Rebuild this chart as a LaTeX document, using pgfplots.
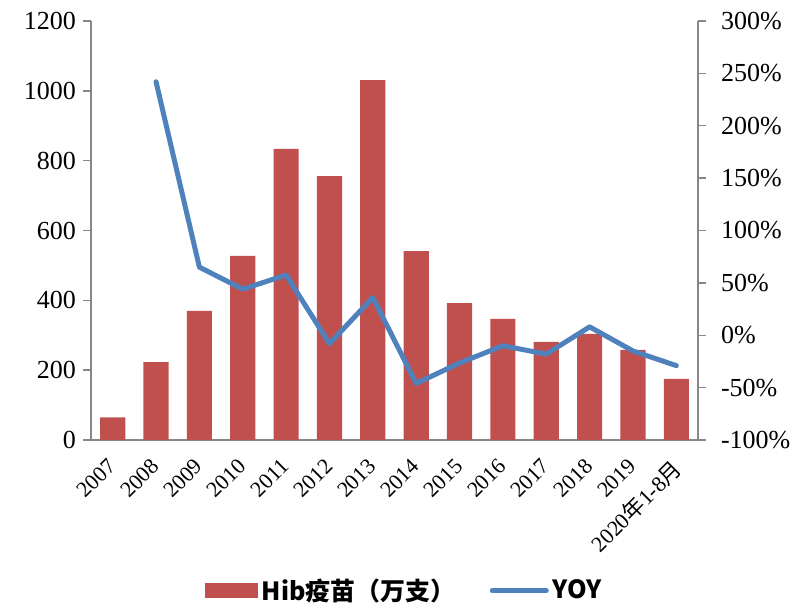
\documentclass[border=0pt]{standalone}
\usepackage{pgfplots}
\pgfplotsset{compat=1.18}
\usepackage{fontspec}
\setmainfont{Liberation Serif}
\newfontfamily\cjk{Noto Sans CJK SC}
\definecolor{barred}{HTML}{C0504D}
\definecolor{lineblue}{HTML}{4F81BD}
\definecolor{axgray}{HTML}{878787}
\begin{document}
\begin{tikzpicture}
\useasboundingbox (-45.5pt,-81.5pt) rectangle (350.5pt,220pt);
\begin{axis}[
  at={(0,0)}, anchor=south west, scale only axis,
  width=303.5pt, height=209.5pt,
  xmin=-0.5, xmax=13.5, ymin=0, ymax=1200,
  axis y line*=left, axis x line*=bottom,
  axis line style={axgray, line width=0.7pt, -},
  xtick={0,...,13},
  xticklabels={2007,2008,2009,2010,2011,2012,2013,2014,2015,2016,2017,2018,2019,2020{\cjk 年}1-8{\cjk 月}},
  major x tick style={draw=none},
  xticklabel style={yshift=-3pt, xshift=-3pt, rotate=45, anchor=north east, inner sep=1pt, font=\fontsize{11}{12}\selectfont},
  ytick={0,200,...,1200},
  yticklabel style={font=\fontsize{13}{15}\selectfont},
  tick align=outside, major tick length=4pt,
  every tick/.style={axgray, line width=0.7pt},
  /pgf/number format/assume math mode=true,
  /pgf/number format/1000 sep={},
  ybar, bar width=0.58,
]
\addplot[fill=barred, draw=none] coordinates {
(0,65) (1,223) (2,370) (3,527) (4,834) (5,756) (6,1031) (7,541) (8,392) (9,347) (10,281) (11,304) (12,258) (13,175)};
\end{axis}
\begin{axis}[
  at={(0,0)}, anchor=south west, scale only axis,
  width=303.5pt, height=209.5pt,
  xmin=-0.5, xmax=13.5, ymin=-100, ymax=300,
  axis y line*=right, axis x line=none,
  axis line style={axgray, line width=0.7pt, -},
  ytick={-100,-50,...,300},
  yticklabels={-100\%,-50\%,0\%,50\%,100\%,150\%,200\%,250\%,300\%},
  yticklabel style={font=\fontsize{13}{15}\selectfont, xshift=4pt},
  tick align=outside, major tick length=4pt,
  every tick/.style={axgray, line width=0.7pt},
  legend style={at={(0.518,-0.36)}, anchor=center, draw=none, fill=none,
    font=\cjk\bfseries\fontsize{12.5}{14}\selectfont, legend columns=2,
    /tikz/every even column/.append style={column sep=15pt}},
]
\addlegendimage{legend image code/.code={\fill[barred] (0pt,-3.5pt) rectangle (26pt,3.5pt);}}
\addlegendentry{Hib疫苗（万支）}
\addplot[lineblue, line width=2.5pt, line join=round, line cap=round, mark=none,
  legend image code/.code={\draw[lineblue, line width=2.5pt, line cap=round] (0pt,0pt) -- (27pt,0pt);}]
  coordinates {
(1,242) (2,65) (3,44) (4,57.5) (5,-8) (6,36) (7,-46) (8,-26.5) (9,-10) (10,-18) (11,8) (12,-15) (13,-29)};
\addlegendentry{YOY}
\end{axis}
\end{tikzpicture}
\end{document}
